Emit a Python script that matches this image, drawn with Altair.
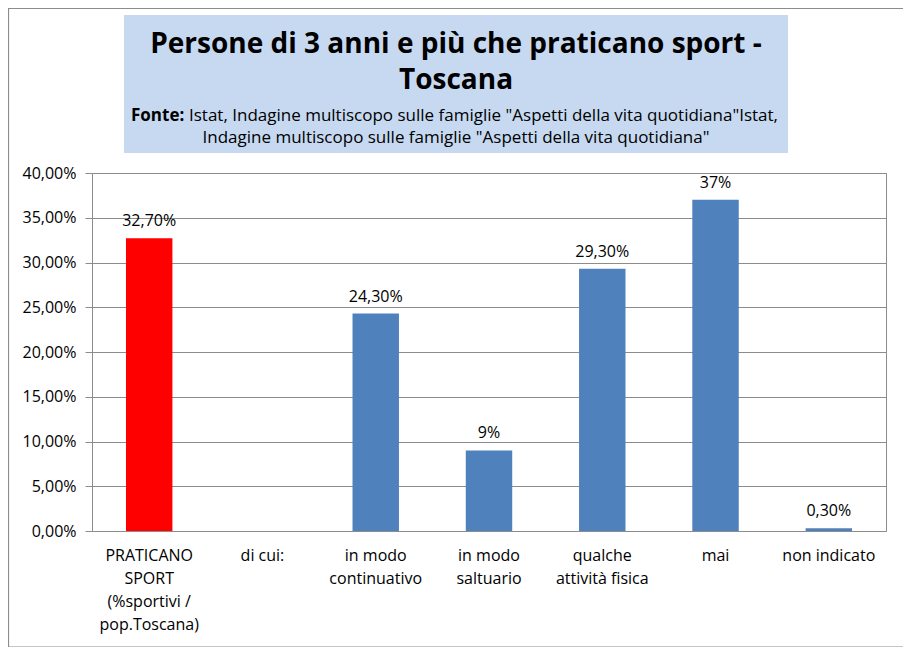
import altair as alt
import pandas as pd

categories = ["PRATICANO|SPORT|(%sportivi /|pop.Toscana)", "di cui:", "in modo|continuativo",
              "in modo|saltuario", "qualche|attività fisica", "mai", "non indicato"]
values = [32.7, None, 24.3, 9.0, 29.3, 37.0, 0.3]
labels = ["32,70%", "", "24,30%", "9%", "29,30%", "37%", "0,30%"]
colors = ["#FF0000", "#4F81BD", "#4F81BD", "#4F81BD", "#4F81BD", "#4F81BD", "#4F81BD"]

title_line1 = "Persone di 3 anni e più che praticano sport -"
title_line2 = "Toscana"
source_bold = "Fonte:"
source_line1 = "Istat, Indagine multiscopo sulle famiglie \"Aspetti della vita quotidiana\"Istat,"
source_line2 = "Indagine multiscopo sulle famiglie \"Aspetti della vita quotidiana\""

df = pd.DataFrame({"cat": categories, "val": values, "label": labels, "color": colors})
FONT = "Open Sans"

x_enc = alt.X("cat:N", sort=categories, title=None,
              scale=alt.Scale(paddingInner=0.59, paddingOuter=0.3),
              axis=alt.Axis(labelExpr="split(datum.value, '|')", labelAngle=0, labelFontSize=16,
                            labelLineHeight=23, labelColor="#000000", labelFont=FONT,
                            labelBaseline="top", labelPadding=16, ticks=False, domain=False,
                            labelLimit=200))
y_enc = alt.Y("val:Q", title=None, scale=alt.Scale(domain=[0, 40], nice=False),
              axis=alt.Axis(values=[0, 5, 10, 15, 20, 25, 30, 35, 40],
                            labelExpr="replace(format(datum.value/100, '.2%'), '.', ',')",
                            labelFontSize=16, labelColor="#000000", labelFont=FONT, labelPadding=9,
                            grid=True, gridColor="#8C8C8C", gridWidth=1, tickColor="#8C8C8C",
                            tickSize=7, domain=False))

bars = alt.Chart(df).mark_bar().encode(
    x=x_enc, y=y_enc, color=alt.Color("color:N", scale=None))

texts = alt.Chart(df).mark_text(baseline="bottom", dy=-9, fontSize=16, font=FONT, color="#000000").encode(
    x=alt.X("cat:N", sort=categories), y="val:Q", text="label:N")

one = pd.DataFrame({"a": [0]})

border = alt.Chart(one).mark_rect(fill=None, stroke="#8C8C8C", strokeWidth=1.2).encode(
    x=alt.value(-83.5), x2=alt.value(812.5), y=alt.value(-164.5), y2=alt.value(474))

titlebox = alt.Chart(one).mark_rect(fill="#C6D9F1").encode(
    x=alt.value(32), x2=alt.value(696), y=alt.value(-158), y2=alt.value(-20))

t1 = alt.Chart(one).mark_text(fontSize=28, fontWeight="bold", font=FONT, color="#000000").encode(
    x=alt.value(364), y=alt.value(-128), text=alt.value(title_line1))
t2 = alt.Chart(one).mark_text(fontSize=28, fontWeight="bold", font=FONT, color="#000000").encode(
    x=alt.value(364), y=alt.value(-92), text=alt.value(title_line2))
s1b = alt.Chart(one).mark_text(fontSize=17, fontWeight="bold", font=FONT, color="#000000", align="left").encode(
    x=alt.value(39), y=alt.value(-57), text=alt.value(source_bold))
s1 = alt.Chart(one).mark_text(fontSize=17, font=FONT, color="#000000", align="left").encode(
    x=alt.value(97), y=alt.value(-57), text=alt.value(source_line1))
s2 = alt.Chart(one).mark_text(fontSize=17, font=FONT, color="#000000").encode(
    x=alt.value(364), y=alt.value(-35), text=alt.value(source_line2))

chart = alt.layer(border, titlebox, bars, texts, t1, t2, s1b, s1, s2).properties(
    width=794, height=358,
    autosize=alt.AutoSizeParams(type="none"),
    padding={"left": 84, "top": 165, "right": 17, "bottom": 116},
    background="#FFFFFF",
).configure_view(stroke="#8C8C8C", strokeWidth=1)

chart.save("out.html", embed_options={"renderer": "svg", "actions": False})
